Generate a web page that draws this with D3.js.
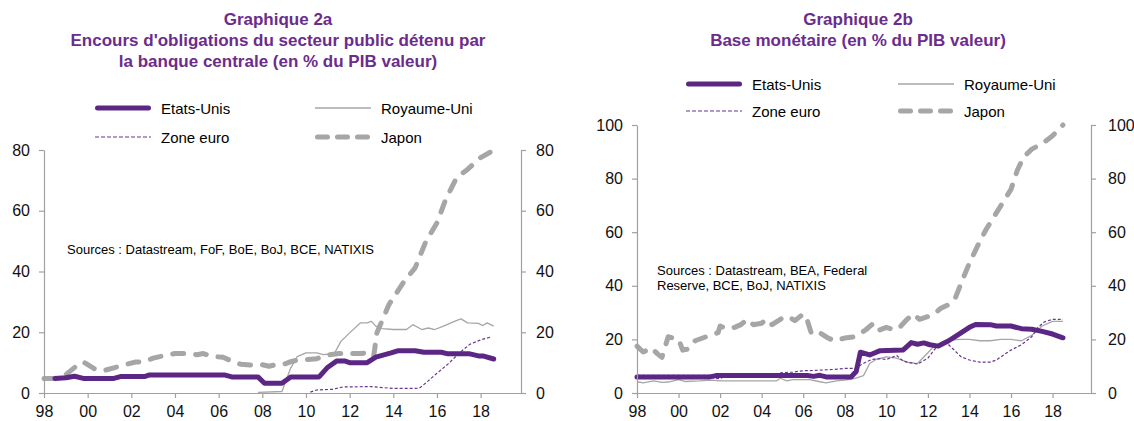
<!DOCTYPE html>
<html>
<head>
<meta charset="utf-8">
<script src="https://cdn.jsdelivr.net/npm/d3@7"></script>
<style>
body { margin: 0; background: #fff; }
svg { display: block; font-family: "Liberation Sans", Arial, sans-serif; }
</style>
</head>
<body>
<svg id="chart" width="1134" height="421"></svg>
<script>
// x axis labels (years)
const yearTicks = [1998, 2000, 2002, 2004, 2006, 2008, 2010, 2012, 2014, 2016, 2018];
const ticksA = [0, 20, 40, 60, 80];
const ticksB = [0, 20, 40, 60, 80, 100];
const seriesNames = ["Etats-Unis", "Royaume-Uni", "Zone euro", "Japon"];

// Graphique 2a : obligations publiques detenues par la banque centrale (% PIB)
const a_us = [[1998.5,4.8],[1999.0,5.0],[1999.4,5.5],[1999.8,4.8],[2001.2,4.8],[2001.5,5.4],[2002.6,5.4],[2002.8,5.9],[2006.3,5.9],[2006.6,5.3],[2007.8,5.3],[2008.1,3.2],[2008.9,3.2],[2009.3,5.3],[2010.6,5.3],[2011.0,8.5],[2011.4,10.5],[2011.8,10.5],[2012.0,10.0],[2012.8,10.0],[2013.2,11.8],[2013.9,13.2],[2014.2,13.9],[2015.0,13.9],[2015.4,13.4],[2016.2,13.4],[2016.5,12.9],[2017.5,12.9],[2017.9,12.2],[2018.1,12.2],[2018.6,11.2]];
const a_uk = [[2007.8,0.2],[2008.9,0.5],[2009.3,8.2],[2009.6,12.0],[2010.0,13.2],[2010.5,13.2],[2010.8,12.6],[2011.3,13.0],[2011.6,17.0],[2012.0,19.8],[2012.5,23.1],[2012.8,23.1],[2013.0,23.6],[2013.2,22.0],[2013.5,21.2],[2014.0,20.9],[2014.6,20.9],[2014.9,22.5],[2015.3,20.9],[2015.6,21.4],[2015.9,20.9],[2016.3,22.0],[2016.8,23.6],[2017.1,24.4],[2017.4,23.1],[2017.9,22.9],[2018.1,22.2],[2018.3,23.1],[2018.6,22.0]];
const a_euro = [[2010.2,0.3],[2010.5,1.0],[2011.2,1.2],[2011.7,2.0],[2013.0,2.1],[2013.5,1.8],[2014.0,1.5],[2015.0,1.5],[2015.2,1.6],[2015.6,4.0],[2016.0,6.5],[2016.5,9.5],[2017.0,13.0],[2017.5,16.0],[2018.0,17.5],[2018.5,18.5]];
const a_jap = [[1998.0,4.8],[1998.5,4.8],[1999.0,6.0],[1999.5,9.0],[1999.8,10.2],[2000.3,8.0],[2000.7,7.3],[2001.2,8.3],[2001.8,9.5],[2002.2,10.2],[2002.6,10.3],[2003.0,11.5],[2003.5,12.3],[2004.0,13.0],[2004.5,13.0],[2005.0,12.6],[2005.3,13.0],[2005.7,12.0],[2006.2,11.8],[2006.6,10.5],[2007.0,9.5],[2007.5,9.2],[2008.0,9.3],[2008.3,8.8],[2008.6,9.3],[2009.0,9.5],[2009.3,10.3],[2009.7,11.0],[2010.0,11.0],[2010.5,11.3],[2011.0,12.5],[2011.5,13.0],[2012.0,13.0],[2012.5,13.0],[2012.9,13.3],[2013.1,12.0],[2013.25,19.8],[2013.5,24.0],[2013.8,29.1],[2014.5,36.8],[2015.0,41.2],[2015.5,50.0],[2016.0,56.0],[2016.4,63.7],[2016.9,70.9],[2017.4,73.6],[2018.0,77.5],[2018.5,79.5]];

// Graphique 2b : base monetaire (% PIB)
const b_us = [[1998.0,6.0],[2001.5,6.0],[2001.8,6.5],[2006.2,6.5],[2006.5,6.2],[2006.8,6.6],[2007.1,6.0],[2008.3,6.0],[2008.55,8.0],[2008.75,15.2],[2009.2,14.2],[2009.7,15.8],[2010.8,16.0],[2011.2,18.8],[2011.5,18.2],[2011.8,18.7],[2012.1,18.0],[2012.5,17.5],[2013.0,19.5],[2013.5,22.0],[2014.0,24.5],[2014.3,25.6],[2015.0,25.5],[2015.3,25.0],[2016.0,25.0],[2016.5,24.0],[2017.0,23.8],[2017.5,23.0],[2018.0,22.0],[2018.5,20.6]];
const b_uk = [[1998.0,4.2],[1998.3,3.8],[1998.8,4.5],[1999.2,4.0],[1999.6,4.2],[2000.0,5.0],[2000.3,4.3],[2001.0,4.5],[2001.6,4.8],[2002.0,4.5],[2004.7,4.5],[2004.9,5.5],[2005.2,4.5],[2005.5,5.0],[2006.3,5.0],[2006.8,4.2],[2007.1,3.8],[2007.6,4.5],[2008.0,4.8],[2008.5,5.5],[2008.9,6.5],[2009.2,11.0],[2009.5,12.5],[2010.0,13.5],[2010.5,13.0],[2011.0,11.5],[2011.5,11.0],[2012.0,15.0],[2012.3,17.5],[2012.8,19.5],[2013.5,20.0],[2014.0,20.0],[2014.5,19.5],[2015.0,19.5],[2015.5,20.0],[2016.0,20.0],[2016.5,19.5],[2017.0,21.5],[2017.5,25.0],[2018.0,26.7],[2018.5,26.7]];
const b_euro = [[1998.0,6.6],[2001.5,6.6],[2001.7,5.5],[2002.0,5.3],[2002.3,6.6],[2004.5,6.8],[2005.0,7.6],[2005.5,7.8],[2006.0,8.3],[2006.5,8.4],[2007.0,8.6],[2007.5,8.8],[2008.0,9.2],[2008.5,9.2],[2009.0,11.5],[2009.3,12.5],[2009.7,12.8],[2010.0,12.5],[2010.5,14.0],[2010.8,12.0],[2011.0,11.5],[2011.5,10.8],[2012.0,13.0],[2012.3,16.0],[2012.5,18.0],[2012.8,19.5],[2013.2,16.5],[2013.6,13.5],[2014.0,12.3],[2014.5,11.5],[2015.0,11.5],[2015.3,12.3],[2015.7,14.5],[2016.0,16.0],[2016.5,18.0],[2017.0,21.0],[2017.3,24.5],[2017.6,26.5],[2018.0,27.5],[2018.5,27.5]];
const b_jap = [[1998.0,17.5],[1998.3,15.3],[1998.7,16.8],[1999.0,14.5],[1999.2,13.3],[1999.5,21.0],[2000.0,20.0],[2000.2,16.0],[2000.5,16.5],[2000.8,19.5],[2001.5,21.5],[2001.9,22.5],[2002.0,25.0],[2002.3,24.0],[2002.7,24.5],[2003.0,25.5],[2003.3,27.5],[2003.6,25.5],[2004.0,26.0],[2004.2,27.5],[2004.5,25.5],[2005.0,28.0],[2005.3,28.5],[2005.6,27.0],[2006.0,29.5],[2006.2,27.0],[2006.4,22.0],[2006.8,22.5],[2007.2,20.5],[2007.5,19.5],[2008.0,20.5],[2008.5,21.0],[2009.0,23.5],[2009.3,25.5],[2009.5,23.0],[2010.0,24.5],[2010.4,23.5],[2010.7,25.0],[2011.0,27.5],[2011.3,29.5],[2011.6,27.5],[2012.0,28.5],[2012.3,29.5],[2012.6,31.5],[2013.0,33.0],[2013.3,35.0],[2013.6,41.0],[2014.0,48.5],[2014.4,55.0],[2014.8,61.0],[2015.2,66.0],[2015.6,71.0],[2016.0,76.0],[2016.3,83.0],[2016.6,88.0],[2017.0,91.0],[2017.5,93.0],[2018.0,96.0],[2018.5,100.0]];

const purple = "#5c2784";
const titleColor = "#6b2c8d";
const gray = "#a6a6a6";
const axisGray = "#a0a0a0";

// line styles, in the order of seriesNames
const styles = [
    {color: purple, width: 5, dash: null, cap: "round"},
    {color: gray, width: 1.3, dash: null, cap: "butt"},
    {color: "#6a3592", width: 1.2, dash: "3,2", cap: "butt"},
    {color: gray, width: 5, dash: "11,12", cap: "round"}
];
const legendDash = [null, null, "4,2", "10,10"];

let svg = d3.select("#chart");

function drawChart(opt) {
    let g = svg.append("g");

    let x = d3.scaleLinear().domain([1998, 2019.85]).range([opt.left, opt.right]);
    let y = d3.scaleLinear().domain([0, opt.yMax]).range([393, opt.top]);

    // titles
    opt.title.forEach(function(t, i){
        g.append("text")
         .attr("x", opt.titleX)
         .attr("y", 19 + i * 21)
         .attr("text-anchor", "middle")
         .attr("dominant-baseline", "central")
         .style("font-size", "17px")
         .style("font-weight", "bold")
         .style("fill", titleColor)
         .text(t);
    });

    // legend
    seriesNames.forEach(function(name, i){
        let lx = opt.legend[i];
        let ly = opt.legendY[Math.floor(i / 2)];
        let st = styles[i];
        let inset = st.cap === "round" ? st.width / 2 : 0;
        g.append("line")
         .attr("x1", lx + inset).attr("x2", lx + 56 - inset)
         .attr("y1", ly).attr("y2", ly)
         .style("stroke", st.color)
         .style("stroke-width", st.width)
         .style("stroke-linecap", st.cap)
         .style("stroke-dasharray", legendDash[i]);
        g.append("text")
         .attr("x", lx + 66).attr("y", ly)
         .attr("dominant-baseline", "central")
         .style("font-size", "15px")
         .text(name);
    });

    // sources note
    opt.sources.forEach(function(s, i){
        g.append("text")
         .attr("x", opt.sourcesX)
         .attr("y", opt.sourcesY + i * 15)
         .attr("dominant-baseline", "central")
         .style("font-size", "13px")
         .text(s);
    });

    // series (Japon first so the others sit on top)
    let line = d3.line()
                 .x(function(d){ return x(d[0]); })
                 .y(function(d){ return y(d[1]); });
    [3, 1, 2, 0].forEach(function(i){
        let st = styles[i];
        g.append("path")
         .datum(opt.data[i])
         .attr("d", line)
         .style("fill", "none")
         .style("stroke", st.color)
         .style("stroke-width", st.width)
         .style("stroke-linecap", st.cap)
         .style("stroke-linejoin", "round")
         .style("stroke-dasharray", st.dash);
    });

    // axes
    let xAxis = d3.axisBottom(x)
                  .tickValues(yearTicks)
                  .tickFormat(function(d){ return String(d % 100).padStart(2, "0"); })
                  .tickSize(5).tickSizeOuter(0).tickPadding(8);
    let yLeft = d3.axisLeft(y).tickValues(opt.ticks)
                  .tickSize(5).tickSizeOuter(0).tickPadding(9);
    let yRight = d3.axisRight(y).tickValues(opt.ticks)
                   .tickSize(5).tickSizeOuter(0).tickPadding(opt.rightPad);

    let axes = [
        g.append("g").attr("transform", "translate(0,393)").call(xAxis),
        g.append("g").attr("transform", "translate(" + opt.left + ",0)").call(yLeft),
        g.append("g").attr("transform", "translate(" + opt.right + ",0)").call(yRight)
    ];
    axes.forEach(function(a){
        a.selectAll("path, line").style("stroke", axisGray).style("stroke-width", 1.2);
        a.selectAll("text")
         .style("font-family", "'Liberation Sans', Arial, sans-serif")
         .style("font-size", "16px")
         .style("fill", "#111");
    });
}

drawChart({
    left: 44, right: 521, top: 150, yMax: 80, ticks: ticksA, rightPad: 10,
    titleX: 278,
    title: ["Graphique 2a",
            "Encours d'obligations du secteur public détenu par",
            "la banque centrale (en % du PIB valeur)"],
    legend: [95, 315, 95, 315], legendY: [108, 137],
    sources: ["Sources : Datastream, FoF, BoE, BoJ, BCE, NATIXIS"],
    sourcesX: 67, sourcesY: 249,
    data: [a_us, a_uk, a_euro, a_jap]
});

drawChart({
    left: 637, right: 1091, top: 125, yMax: 100, ticks: ticksB, rightPad: 12,
    titleX: 858,
    title: ["Graphique 2b",
            "Base monétaire (en % du PIB valeur)"],
    legend: [686, 898, 686, 898], legendY: [84, 111],
    sources: ["Sources : Datastream, BEA, Federal", "Reserve, BCE, BoJ, NATIXIS"],
    sourcesX: 657, sourcesY: 270,
    data: [b_us, b_uk, b_euro, b_jap]
});
</script>
</body>
</html>
